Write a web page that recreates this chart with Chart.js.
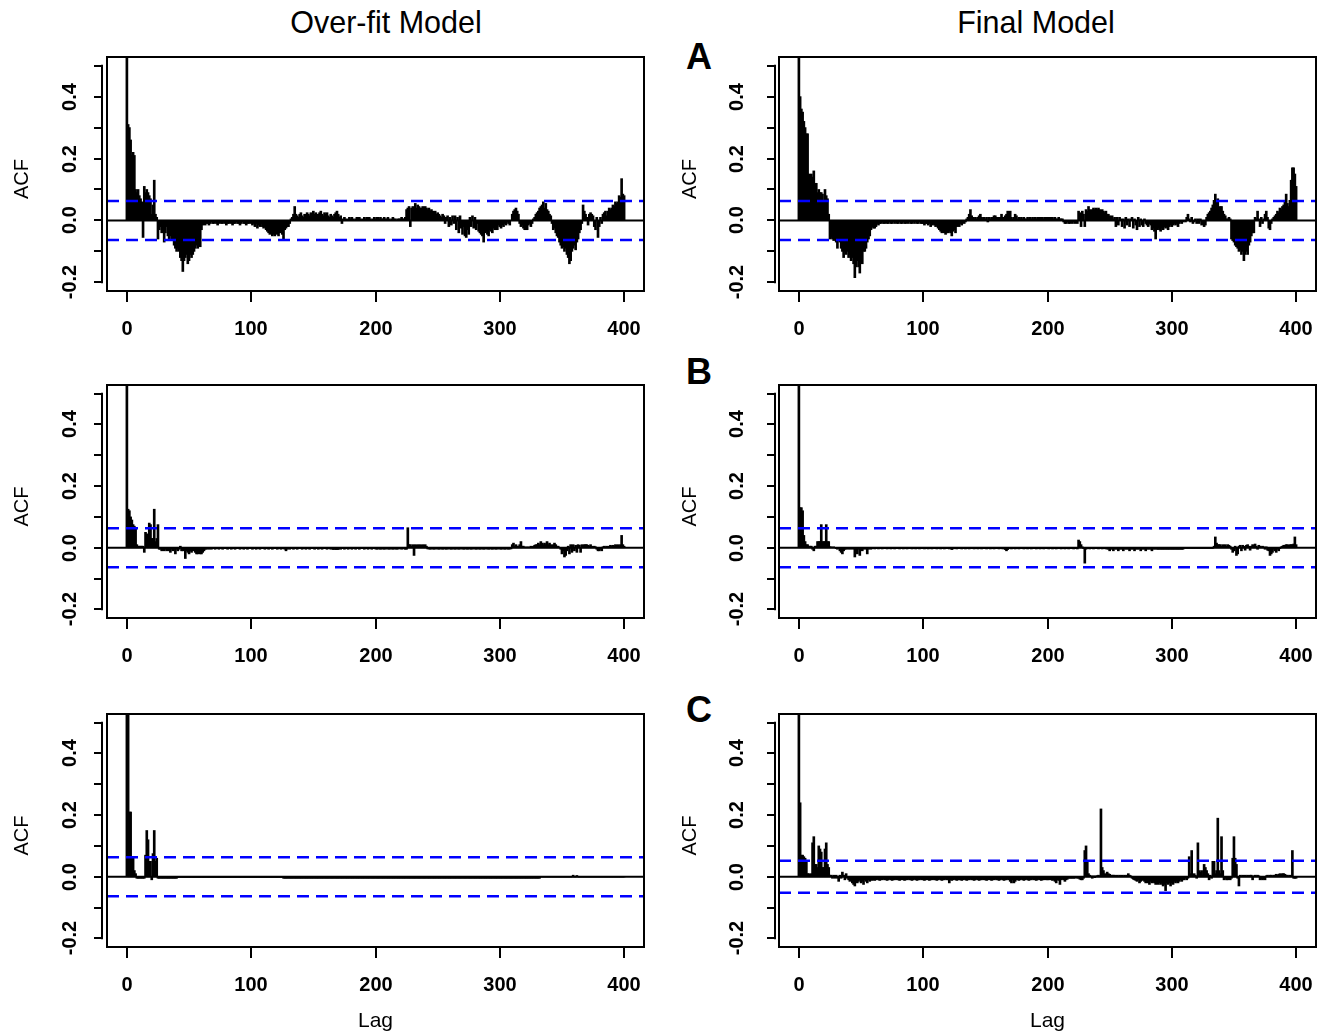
<!DOCTYPE html>
<html>
<head>
<meta charset="utf-8">
<title>ACF of residuals</title>
<script src="https://cdn.jsdelivr.net/npm/chart.js@4.4.0/dist/chart.umd.min.js"></script>
<style>
  html, body { margin: 0; padding: 0; background: #fff; }
  #fig { position: relative; width: 1322px; height: 1034px; overflow: hidden;
         font-family: "Liberation Sans", Arial, sans-serif; color: #000; }
  #fig canvas { position: absolute; }
  .txt { position: absolute; transform: translate(-50%, -50%); white-space: nowrap; line-height: 1; }
  .title { font-size: 30.5px; }
  .tag { font-size: 36px; font-weight: bold; }
</style>
</head>
<body>
<div id="fig">
  <div class="txt title" style="left:386px; top:22px;">Over-fit Model</div>
  <div class="txt title" style="left:1036px; top:22px;">Final Model</div>
  <div class="txt tag" style="left:699px; top:57px;">A</div>
  <div class="txt tag" style="left:699px; top:372px;">B</div>
  <div class="txt tag" style="left:699px; top:710px;">C</div>
</div>
<script>
/* ACF of model residuals, lags 0..400, over-fit model (left) vs final model (right).
   A, B, C are the three rows. One value per lag. */

var lagMin = -16, lagMax = 416;
var acfMin = -0.228, acfMax = 0.528;

var xTicks = [0, 100, 200, 300, 400];
var yTicks = [-0.2, -0.1, 0, 0.1, 0.2, 0.3, 0.4, 0.5];
var yTickLabels = ['-0.2', '', '0.0', '', '0.2', '', '0.4', ''];

// 95% bounds drawn as the dashed blue lines (+/-)
var ciBounds = [0.063, 0.063, 0.063, 0.063, 0.063, 0.052];

var overfitA = [
  1, .31, .30, .26, .21, .22, .21, .10, .09, .10,
  .08, .07, .06, -.055, .11, .09, .10, .09, .08, .07,
  .02, .05, .13, .02, .01, -.06, -.03, -.02, -.04, -.03,
  -.07, -.04, -.02, -.05, -.065, -.05, -.06, -.065, -.08, -.09,
  -.10, -.09, -.10, -.12, -.13, -.165, -.13, -.12, -.11, -.14,
  -.13, -.11, -.12, -.11, -.10, -.09, -.08, -.09, -.08, -.085,
  -.03, -.015, -.01, -.015, -.01, -.01, -.015, -.01, -.005, -.01,
  -.01, -.005, -.01, -.015, -.01, -.005, -.01, -.01, -.005, -.01,
  -.015, -.01, -.01, -.005, -.01, -.015, -.01, -.01, -.005, -.01,
  -.01, -.015, -.01, -.005, -.01, -.01, -.015, -.01, -.01, -.005,
  -.01, -.015, -.01, -.02, -.01, -.025, -.015, -.02, -.01, -.02,
  -.025, -.02, -.03, -.035, -.04, -.045, -.04, -.05, -.045, -.05,
  -.04, -.045, -.05, -.04, -.035, -.045, -.065, -.03, -.025, -.02,
  -.02, -.01, .005, .01, .02, .045, .02, .015, .01, .02,
  .025, .015, .01, .02, .015, .025, .02, .015, .025, .02,
  .03, .02, .025, .015, .02, .025, .03, .02, .015, .025,
  .02, .025, .015, .01, .02, .015, .01, .02, .025, .03,
  .02, .01, .015, -.01, .005, .01, .005, 0, .005, .01,
  .005, .01, .005, 0, .005, .01, .005, .01, .005, 0,
  .005, .01, .005, .01, .005, .01, .005, 0, .005, .01,
  .005, .01, .01, .005, .01, .005, .005, .01, .005, .005,
  .01, .005, 0, .005, .01, .005, .005, 0, .005, .005,
  .005, .01, .005, .005, .01, .035, .04, .045, -.02, .04,
  .045, .04, .055, .04, .05, .045, .04, .04, .045, .04,
  .045, .04, .035, .04, .03, .035, .03, .025, .03, .02,
  .025, .02, .015, .01, .02, .015, -.01, .01, .015, -.02,
  .01, -.015, .015, -.01, .015, -.03, .01, -.04, .015, -.025,
  -.045, -.02, -.05, -.055, -.03, -.045, .01, -.02, .015, -.025,
  .01, -.03, -.01, -.035, -.04, -.045, -.05, -.07, -.04, -.035,
  -.045, -.05, -.03, -.035, -.04, -.025, -.03, -.02, -.03, -.015,
  -.02, -.025, -.015, -.02, -.01, -.015, -.005, -.01, -.015, 0,
  .02, .03, .035, .04, .03, .02, -.01, -.02, -.015, -.025,
  -.03, -.02, -.03, -.015, -.01, -.02, -.01, .005, .01, .02,
  .025, .03, .04, .045, .05, .06, .04, .055, .035, .03,
  .02, .015, -.01, -.03, -.025, -.04, -.05, -.055, -.07, -.08,
  -.09, -.085, -.10, -.09, -.11, -.12, -.14, -.13, -.10, -.09,
  -.08, -.095, -.07, -.06, -.04, -.03, -.01, .05, .03, .02,
  .01, -.015, .02, .025, .02, .015, -.02, -.03, .01, -.055,
  -.02, .01, -.01, .02, .025, .03, .015, .03, .04, .035,
  .04, .05, .045, .06, .055, .06, .08, .075, .135, .085,
  .08
];

var finalA = [
  1, .40, .36, .35, .32, .30, .28, .28, .15, .14,
  .15, .14, .16, .10, .12, .09, .10, .09, .09, .085,
  .06, .10, .08, .07, .02, -.06, -.055, -.06, -.065, -.06,
  -.07, -.09, -.065, -.07, -.09, -.10, -.12, -.10, -.11, -.10,
  -.12, -.11, -.13, -.12, -.14, -.185, -.15, -.13, -.15, -.17,
  -.13, -.14, -.10, -.10, -.09, -.07, -.06, -.05, -.03, -.02,
  -.025, -.025, -.02, -.01, -.015, -.01, -.01, -.005, -.01, -.01,
  -.005, -.01, -.01, -.005, -.01, -.01, -.005, -.01, -.005, -.01,
  -.01, -.005, -.01, -.01, -.005, -.01, -.01, -.005, -.01, -.005,
  -.01, -.01, -.005, -.01, -.005, -.01, -.01, -.005, -.01, -.01,
  -.01, -.015, -.01, -.01, -.015, -.01, -.02, -.015, -.01, -.015,
  -.02, -.015, -.025, -.03, -.035, -.04, -.035, -.04, -.045, -.04,
  -.04, -.035, -.04, -.05, -.035, -.03, -.04, -.02, -.015, -.02,
  -.01, -.015, -.005, -.01, -.005, .005, .01, .02, .035, .015,
  .01, .005, .01, .005, .01, .015, .02, .01, .005, .01,
  .005, .01, -.005, .01, .005, .01, .01, .015, .015, .01,
  .01, .005, .01, .02, .01, .01, .015, .02, .03, .025,
  .03, .01, .005, .01, .02, .015, .005, .01, .005, .01,
  .005, .01, .005, .005, .01, .005, .01, .005, .01, .005,
  .01, .005, .01, .01, .005, .01, .01, .005, .01, .01,
  .01, .01, .005, .01, .01, .005, .01, .005, .005, .01,
  .005, .005, .005, -.005, -.01, -.01, -.005, -.01, -.01, -.005,
  -.01, -.005, -.01, -.005, -.01, .03, .025, -.02, .03, .02,
  -.02, .035, .03, .045, .035, .03, .035, .04, .035, .04,
  .035, .04, .035, .03, .035, .03, .025, .03, .02, .02,
  .015, .01, .015, .005, .01, -.02, .01, -.015, .01, .005,
  -.02, .005, -.025, .01, -.015, .005, -.02, .005, .01, -.025,
  .005, -.015, -.03, .01, -.02, .005, -.015, -.02, .005, -.01,
  -.015, -.02, -.01, -.015, -.03, -.025, -.035, -.06, -.03, -.025,
  -.03, -.035, -.025, -.03, -.02, -.025, -.02, -.03, -.02, -.015,
  -.02, -.015, -.01, -.015, -.01, -.02, -.01, -.005, -.01, -.005,
  0, -.005, .01, .02, .005, -.005, .01, -.01, -.005, .005,
  -.01, .005, -.01, .005, -.015, -.01, -.02, -.015, .01, .02,
  .025, .03, .04, .05, .065, .085, .06, .07, .04, .045,
  .045, .03, .02, .015, .005, .005, .01, .005, -.06, -.065,
  -.07, -.08, -.085, -.09, -.10, -.095, -.11, -.10, -.13, -.11,
  -.10, -.11, -.08, -.07, -.05, -.04, -.04, .01, .005, .03,
  .005, -.02, .01, -.01, .005, .02, .03, .01, -.025, -.03,
  -.01, .005, .01, .015, .02, .03, .025, .04, .035, .045,
  .05, .06, .085, .055, .045, .065, .13, .17, .17, .15,
  .11
];

var overfitB = [
  1, .125, .12, .10, .09, .075, .07, .065, .01, .005,
  .005, .005, .005, .005, -.015, .05, .045, .03, .08, .075,
  .03, .03, .125, .02, .03, .075, -.005, -.005, -.01, -.005,
  -.01, -.005, -.01, -.005, -.01, -.015, -.005, -.01, -.005, -.02,
  -.005, -.01, -.005, .005, -.01, -.01, -.005, -.035, -.01, -.015,
  -.02, -.01, -.015, -.01, -.005, -.015, -.02, -.02, -.015, -.02,
  -.02, -.015, -.01, -.005, -.005, -.003, -.005, -.003, -.005, -.003,
  -.003, -.005, -.003, -.003, -.005, -.003, -.003, -.005, -.003, -.003,
  -.003, -.005, -.003, -.003, -.005, -.003, -.003, -.005, -.003, -.003,
  -.003, -.005, -.003, -.003, -.005, -.003, -.003, -.005, -.003, -.003,
  -.003, -.005, -.003, -.003, -.005, -.003, -.003, -.005, -.003, -.003,
  -.003, -.005, -.003, -.003, -.005, -.003, -.003, -.005, -.003, -.003,
  -.003, -.005, -.003, -.003, -.005, -.003, -.003, -.005, -.01, -.005,
  -.003, -.005, -.003, -.003, -.005, -.003, -.003, -.005, -.003, -.003,
  -.003, -.005, -.003, -.003, -.005, -.003, -.003, -.005, -.003, -.003,
  -.003, -.005, -.003, -.003, -.005, -.003, -.003, -.005, -.003, -.003,
  -.003, -.005, -.003, -.003, -.005, -.003, -.006, -.005, -.006, -.005,
  -.006, -.003, -.005, -.003, -.003, -.005, -.003, -.003, -.005, -.003,
  -.003, -.005, -.003, -.003, -.005, -.003, -.003, -.005, -.003, -.003,
  -.003, -.005, -.003, -.003, -.005, -.003, -.003, -.005, -.003, -.003,
  -.004, -.005, -.004, -.004, -.005, -.004, -.004, -.005, -.004, -.004,
  -.004, -.005, -.004, -.004, -.005, -.004, -.004, -.005, -.004, -.004,
  -.003, -.005, -.003, -.004, -.005, -.005, .065, .01, .01, .005,
  .01, -.025, .01, .008, .01, .008, .01, .008, .01, .008,
  .01, .005, -.004, -.004, -.005, -.004, -.004, -.005, -.004, -.004,
  -.004, -.005, -.004, -.004, -.005, -.004, -.004, -.005, -.004, -.004,
  -.004, -.005, -.004, -.004, -.005, -.004, -.004, -.005, -.004, -.004,
  -.004, -.005, -.004, -.004, -.005, -.004, -.004, -.005, -.004, -.004,
  -.004, -.005, -.004, -.004, -.005, -.004, -.004, -.005, -.004, -.004,
  -.004, -.005, -.004, -.004, -.005, -.004, -.004, -.005, -.004, -.004,
  -.004, -.005, -.004, -.004, -.005, -.004, -.004, -.005, -.004, -.004,
  .01, .015, .005, .01, .005, .005, .01, .02, .005, .005,
  0, .003, 0, .003, 0, .005, .003, .005, .008, .01,
  .01, .015, .01, .02, .015, .01, .015, .01, .02, .01,
  .015, .01, .008, .01, .015, .01, .005, .005, 0, -.005,
  -.02, -.01, -.03, -.025, -.01, .005, -.02, .01, -.015, .01,
  -.01, .008, -.015, .01, .008, -.015, .01, .008, .01, .01,
  .01, .008, .005, .01, .005, .003, .005, .003, -.005, -.01,
  -.01, -.005, -.01, .003, .005, .003, .005, .003, .005, .008,
  .005, .008, .005, .01, .008, .01, .005, .01, .04, .01,
  .005
];

var finalB = [
  1, .13, .13, .12, .04, .02, .01, .01, .005, .005,
  .005, -.005, -.01, .005, .005, .02, .02, .02, .075, .02,
  .02, .02, .075, .02, .02, .003, .003, 0, .003, 0,
  -.003, -.005, -.003, -.01, -.015, -.02, -.01, -.005, -.005, -.003,
  -.005, -.003, -.005, -.003, -.005, -.03, -.005, -.02, -.005, -.025,
  -.005, -.01, -.005, -.003, -.005, -.02, -.005, -.003, -.005, -.003,
  -.003, -.004, -.003, -.003, -.004, -.003, -.003, -.004, -.003, -.003,
  -.003, -.004, -.003, -.003, -.004, -.003, -.003, -.004, -.003, -.003,
  -.003, -.004, -.003, -.003, -.004, -.003, -.003, -.004, -.003, -.003,
  -.003, -.004, -.003, -.003, -.004, -.003, -.003, -.004, -.003, -.003,
  -.003, -.004, -.003, -.003, -.004, -.003, -.003, -.004, -.003, -.003,
  -.003, -.004, -.003, -.003, -.004, -.003, -.003, -.004, -.003, -.003,
  -.003, -.004, -.003, -.006, -.004, -.003, -.003, -.004, -.003, -.003,
  -.003, -.004, -.003, -.003, -.004, -.003, -.003, -.004, -.003, -.003,
  -.003, -.004, -.003, -.003, -.004, -.003, -.003, -.004, -.003, -.003,
  -.003, -.004, -.003, -.003, -.004, -.003, -.003, -.004, -.003, -.003,
  -.003, -.004, -.003, -.003, -.004, -.003, -.006, -.01, -.006, -.003,
  -.003, -.004, -.003, -.003, -.004, -.003, -.003, -.004, -.003, -.003,
  -.003, -.004, -.003, -.003, -.004, -.003, -.003, -.004, -.003, -.003,
  -.003, -.004, -.003, -.003, -.004, -.003, -.003, -.004, -.003, -.003,
  -.003, -.004, -.003, -.003, -.004, -.003, -.003, -.004, -.003, -.003,
  -.003, -.004, -.003, -.003, -.004, -.003, -.003, -.004, -.003, -.003,
  -.003, -.004, -.003, -.003, -.004, .025, .02, .01, .003, -.003,
  -.05, -.005, -.003, -.003, -.004, -.003, -.003, -.004, -.003, -.003,
  -.003, -.004, -.003, -.003, -.004, -.003, -.003, -.004, -.004, -.005,
  -.01, -.004, -.005, -.01, -.004, -.005, -.004, -.01, -.005, -.004,
  -.005, -.01, -.004, -.005, -.004, -.005, -.01, -.004, -.005, -.004,
  -.01, -.005, -.004, -.005, -.004, -.01, -.005, -.004, -.005, -.01,
  -.004, -.005, -.004, -.005, -.01, -.004, -.005, -.004, -.005, -.005,
  -.005, -.005, -.005, -.005, -.005, -.005, -.005, -.005, -.005, -.005,
  -.005, -.005, -.005, -.005, -.005, -.005, -.005, -.005, -.005, -.005,
  -.002, -.002, -.002, -.002, -.002, -.002, -.002, -.002, -.002, -.002,
  -.002, -.002, -.002, -.002, -.002, -.002, -.002, -.002, -.002, -.002,
  -.002, -.002, -.002, -.002, .005, .035, .015, .01, .01, .01,
  .005, .01, .008, .01, .005, .01, .008, .005, -.005, -.015,
  -.01, .005, -.025, -.02, .005, .008, -.01, .008, .005, -.008,
  .008, .01, .005, -.008, .005, .01, .008, .012, .005, -.005,
  .008, .005, .003, .005, .003, -.005, .003, -.008, -.01, -.025,
  -.02, -.015, -.005, -.01, -.015, -.005, -.01, -.003, .003, .005,
  .008, .008, .01, .01, .008, .01, .01, .01, .012, .035,
  .01
];

var overfitC = [
  1, .6, .21, .21, .06, .06, .02, .01, -.005, -.005,
  -.005, -.005, -.005, -.005, -.005, .07, .15, .12, .05, .05,
  -.01, .075, .15, .05, .06, -.005, -.005, -.005, -.005, -.005,
  -.005, -.005, -.005, -.005, -.005, -.005, -.005, -.005, -.005, -.005,
  -.005, -.003, -.002, -.002, -.002, -.002, -.002, -.002, -.002, -.002,
  -.002, -.002, -.002, -.002, -.002, -.002, -.002, -.002, -.002, -.002,
  -.002, -.002, -.002, -.002, -.002, -.002, -.002, -.002, -.002, -.002,
  -.002, -.002, -.002, -.002, -.002, -.002, -.002, -.002, -.002, -.002,
  -.002, -.002, -.002, -.002, -.002, -.002, -.002, -.002, -.002, -.002,
  -.002, -.002, -.002, -.002, -.002, -.002, -.002, -.002, -.002, -.002,
  -.002, -.002, -.002, -.002, -.002, -.002, -.002, -.002, -.002, -.002,
  -.002, -.002, -.002, -.002, -.002, -.002, -.002, -.002, -.002, -.002,
  -.002, -.002, -.002, -.002, -.002, -.002, -.005, -.005, -.005, -.005,
  -.005, -.005, -.005, -.005, -.005, -.005, -.005, -.005, -.005, -.005,
  -.005, -.005, -.005, -.005, -.005, -.005, -.005, -.005, -.005, -.005,
  -.005, -.005, -.005, -.005, -.005, -.005, -.005, -.005, -.005, -.005,
  -.005, -.005, -.005, -.005, -.005, -.005, -.005, -.005, -.005, -.005,
  -.005, -.005, -.005, -.005, -.005, -.005, -.005, -.005, -.005, -.005,
  -.005, -.005, -.005, -.005, -.005, -.005, -.005, -.005, -.005, -.005,
  -.005, -.005, -.005, -.005, -.005, -.005, -.005, -.005, -.005, -.005,
  -.005, -.005, -.005, -.005, -.005, -.005, -.005, -.005, -.005, -.005,
  -.005, -.005, -.005, -.005, -.005, -.005, -.005, -.005, -.005, -.005,
  -.005, -.005, -.005, -.005, -.005, -.005, -.005, -.005, -.005, -.005,
  -.005, -.005, -.005, -.005, -.005, -.005, -.005, -.005, -.005, -.005,
  -.005, -.005, -.005, -.005, -.005, -.005, -.005, -.005, -.005, -.005,
  -.005, -.005, -.005, -.005, -.005, -.005, -.005, -.005, -.005, -.005,
  -.005, -.005, -.005, -.005, -.005, -.005, -.005, -.005, -.005, -.005,
  -.005, -.005, -.005, -.005, -.005, -.005, -.005, -.005, -.005, -.005,
  -.005, -.005, -.005, -.005, -.005, -.005, -.005, -.005, -.005, -.005,
  -.005, -.005, -.005, -.005, -.005, -.005, -.005, -.005, -.005, -.005,
  -.005, -.005, -.005, -.005, -.005, -.005, -.005, -.005, -.005, -.005,
  -.005, -.005, -.005, -.005, -.005, -.005, -.005, -.005, -.005, -.005,
  -.005, -.005, -.005, -.005, -.005, -.005, -.005, -.005, -.005, -.005,
  -.005, -.005, -.005, -.001, -.001, -.001, -.001, -.001, -.001, -.001,
  -.001, -.001, -.001, -.001, -.001, -.001, -.001, -.001, -.001, -.001,
  -.001, -.001, -.001, -.001, -.001, -.001, -.001, -.001, -.001, .005,
  -.001, -.001, .004, -.001, -.001, -.001, -.001, -.001, -.001, -.001,
  -.001, -.001, -.001, -.001, -.001, -.001, -.001, -.001, -.001, -.001,
  -.001, -.001, -.001, -.001, -.001, -.001, -.001, -.001, -.001, -.001,
  -.001, -.001, -.001, -.001, -.001, -.001, -.001, -.001, -.001, -.001,
  -.001
];

var finalC = [
  1, .24, .07, .07, .065, .06, .05, .01, .01, .005,
  .01, .11, .13, .04, .04, .03, .10, .09, .08, .03,
  .03, .09, .11, .04, .03, .005, .005, -.005, .005, -.005,
  .005, -.005, -.015, .005, -.005, .015, .005, -.01, .01, -.005,
  -.01, -.015, -.01, -.02, -.025, -.03, -.015, -.02, -.015, -.01,
  -.02, -.015, -.025, -.01, -.015, -.02, -.01, -.015, -.01, -.012,
  -.01, -.012, -.01, -.008, -.01, -.012, -.01, -.01, -.008, -.01,
  -.01, -.012, -.01, -.008, -.01, -.012, -.01, -.01, -.008, -.01,
  -.01, -.012, -.01, -.008, -.01, -.012, -.01, -.01, -.008, -.01,
  -.01, -.012, -.01, -.008, -.01, -.012, -.01, -.01, -.008, -.01,
  -.01, -.012, -.01, -.008, -.01, -.012, -.01, -.01, -.008, -.01,
  -.01, -.012, -.01, -.008, -.01, -.012, -.01, -.01, -.008, -.01,
  -.01, -.02, -.01, -.012, -.01, -.008, -.01, -.012, -.01, -.01,
  -.01, -.012, -.01, -.008, -.01, -.012, -.01, -.01, -.008, -.01,
  -.01, -.012, -.01, -.008, -.01, -.012, -.01, -.01, -.008, -.01,
  -.01, -.012, -.01, -.008, -.01, -.012, -.01, -.01, -.008, -.01,
  -.01, -.012, -.01, -.008, -.01, -.012, -.01, -.01, -.008, -.01,
  -.015, -.02, -.01, -.02, -.015, -.01, -.01, -.012, -.01, -.008,
  -.01, -.012, -.01, -.008, -.01, -.012, -.01, -.01, -.008, -.01,
  -.01, -.012, -.01, -.008, -.01, -.012, -.01, -.01, -.008, -.01,
  -.01, -.01, -.008, -.01, -.012, -.01, -.015, -.02, -.01, -.012,
  -.025, -.01, -.008, -.01, -.015, -.01, -.008, -.005, -.005, -.005,
  -.005, -.005, -.005, -.003, -.005, -.005, -.008, -.01, -.01, -.005,
  .085, .10, .05, .01, .005, .003, -.005, .003, -.003, .003,
  .003, .005, .003, .22, .03, .02, .01, .008, .015, .01,
  .008, .005, .005, .005, .005, .003, .005, .003, .005, .003,
  .005, .003, .005, .003, .005, .01, .005, .003, -.005, -.008,
  -.01, -.012, -.015, -.01, -.02, -.015, -.012, -.01, -.015, -.02,
  -.015, -.02, -.025, -.015, -.02, -.015, -.02, -.025, -.02, -.025,
  -.02, -.025, -.02, -.03, -.025, -.045, -.02, -.025, -.02, -.03,
  -.02, -.025, -.015, -.02, -.015, -.02, -.015, -.01, -.015, -.01,
  -.01, -.005, -.01, -.005, .065, .01, .085, .005, .01, .005,
  -.005, .11, .02, .015, .02, .005, .04, .03, .02, .01,
  -.01, .005, -.005, .05, .05, .01, .02, .19, .02, .01,
  .13, .02, -.01, -.005, -.01, -.01, -.005, -.01, -.005, .06,
  .13, .06, .04, -.005, -.03, .005, .003, .005, .003, .005,
  .003, .005, .003, .005, .005, -.01, .003, .005, .003, .005,
  .003, -.01, -.008, -.01, -.008, -.01, .003, .005, .003, .005,
  .005, .003, .005, .005, .008, .005, .008, .01, .008, .01,
  .01, .008, .005, .005, .003, .005, .003, .085, -.005, -.005,
  -.005
];

(function () {
  'use strict';

  var FONT = '"Liberation Sans", Arial, sans-serif';
  var CANVAS_W = 661;

  // column/row frames in page pixels; chart area is set through layout padding
  var COLS = [
    { left: 0,   boxL: 107, boxR: 644,  axisGap: 5, lblOff: 37, ylabOff: 85 },
    { left: 661, boxL: 779, boxR: 1316, axisGap: 4, lblOff: 42, ylabOff: 89 }
  ];
  var ROWS = [
    { top: 40,  height: 305, boxT: 57,  boxB: 291 },
    { top: 345, height: 330, boxT: 385, boxB: 618 },
    { top: 675, height: 359, boxT: 714, boxB: 947, xlab: true }
  ];

  var panels = [
    { row: 0, col: 0, acf: overfitA, ci: ciBounds[0] },
    { row: 0, col: 1, acf: finalA,   ci: ciBounds[1] },
    { row: 1, col: 0, acf: overfitB, ci: ciBounds[2] },
    { row: 1, col: 1, acf: finalB,   ci: ciBounds[3] },
    { row: 2, col: 0, acf: overfitC, ci: ciBounds[4] },
    { row: 2, col: 1, acf: finalC,   ci: ciBounds[5] }
  ];

  // R-style frame: box, outside ticks, rotated y labels
  var rAxes = {
    id: 'rAxes',
    afterDatasetsDraw: function (chart, args, opts) {
      var ctx = chart.ctx, a = chart.chartArea;
      var xs = chart.scales.x, ys = chart.scales.y;
      ctx.save();
      ctx.strokeStyle = '#000';
      ctx.fillStyle = '#000';
      ctx.lineWidth = 2;
      ctx.strokeRect(a.left, a.top, a.right - a.left, a.bottom - a.top);

      ctx.font = 'bold 20px ' + FONT;
      ctx.textAlign = 'center';
      ctx.textBaseline = 'middle';
      xTicks.forEach(function (t) {
        var px = Math.round(xs.getPixelForValue(t));
        ctx.beginPath();
        ctx.moveTo(px, a.bottom);
        ctx.lineTo(px, a.bottom + 11);
        ctx.stroke();
        ctx.fillText(String(t), px, a.bottom + 38);
      });

      var ax = a.left - opts.axisGap;
      ctx.beginPath();
      ctx.moveTo(ax, ys.getPixelForValue(yTicks[0]) + 1);
      ctx.lineTo(ax, ys.getPixelForValue(yTicks[yTicks.length - 1]) - 1);
      ctx.stroke();
      yTicks.forEach(function (t, i) {
        var py = Math.round(ys.getPixelForValue(t));
        ctx.beginPath();
        ctx.moveTo(ax, py);
        ctx.lineTo(ax - 8, py);
        ctx.stroke();
        if (yTickLabels[i]) {
          ctx.save();
          ctx.translate(a.left - opts.lblOff, py);
          ctx.rotate(-Math.PI / 2);
          ctx.fillText(yTickLabels[i], 0, 0);
          ctx.restore();
        }
      });

      ctx.font = '20px ' + FONT;
      ctx.save();
      ctx.translate(a.left - opts.ylabOff, (a.top + a.bottom) / 2 + 5);
      ctx.rotate(-Math.PI / 2);
      ctx.fillText('ACF', 0, 0);
      ctx.restore();

      if (opts.xlab) {
        ctx.font = '21px ' + FONT;
        ctx.fillText('Lag', (a.left + a.right) / 2, a.bottom + 74);
      }
      ctx.restore();
    }
  };

  var fig = document.getElementById('fig');

  panels.forEach(function (p) {
    var col = COLS[p.col], row = ROWS[p.row];
    var canvas = document.createElement('canvas');
    canvas.width = CANVAS_W;
    canvas.height = row.height;
    canvas.style.left = col.left + 'px';
    canvas.style.top = row.top + 'px';
    canvas.style.width = CANVAS_W + 'px';
    canvas.style.height = row.height + 'px';
    fig.appendChild(canvas);

    var bars = p.acf.map(function (v, lag) { return { x: lag, y: v }; });
    var edge = function (y) { return [{ x: lagMin, y: y }, { x: lagMax, y: y }]; };
    var dashed = { type: 'line', borderColor: '#0000ff', borderWidth: 2.5, borderDash: [12, 7],
                   pointRadius: 0, fill: false, order: 0 };

    new Chart(canvas, {
      type: 'bar',
      data: {
        datasets: [
          Object.assign({ data: edge(p.ci) }, dashed),
          Object.assign({ data: edge(-p.ci) }, dashed),
          { type: 'line', data: edge(0), borderColor: '#000', borderWidth: 2,
            pointRadius: 0, fill: false, order: 1 },
          { data: bars, backgroundColor: '#000', borderWidth: 0,
            barThickness: 2, order: 2 }
        ]
      },
      options: {
        responsive: false,
        animation: false,
        devicePixelRatio: 1,
        layout: {
          padding: {
            left: col.boxL - col.left,
            right: col.left + CANVAS_W - col.boxR,
            top: row.boxT - row.top,
            bottom: row.top + row.height - row.boxB
          }
        },
        scales: {
          x: { type: 'linear', min: lagMin, max: lagMax, display: false, offset: false },
          y: { type: 'linear', min: acfMin, max: acfMax, display: false }
        },
        plugins: {
          legend: { display: false },
          tooltip: { enabled: false },
          rAxes: { axisGap: col.axisGap, lblOff: col.lblOff, ylabOff: col.ylabOff, xlab: !!row.xlab }
        }
      },
      plugins: [rAxes]
    });
  });
})();
</script>
</body>
</html>
